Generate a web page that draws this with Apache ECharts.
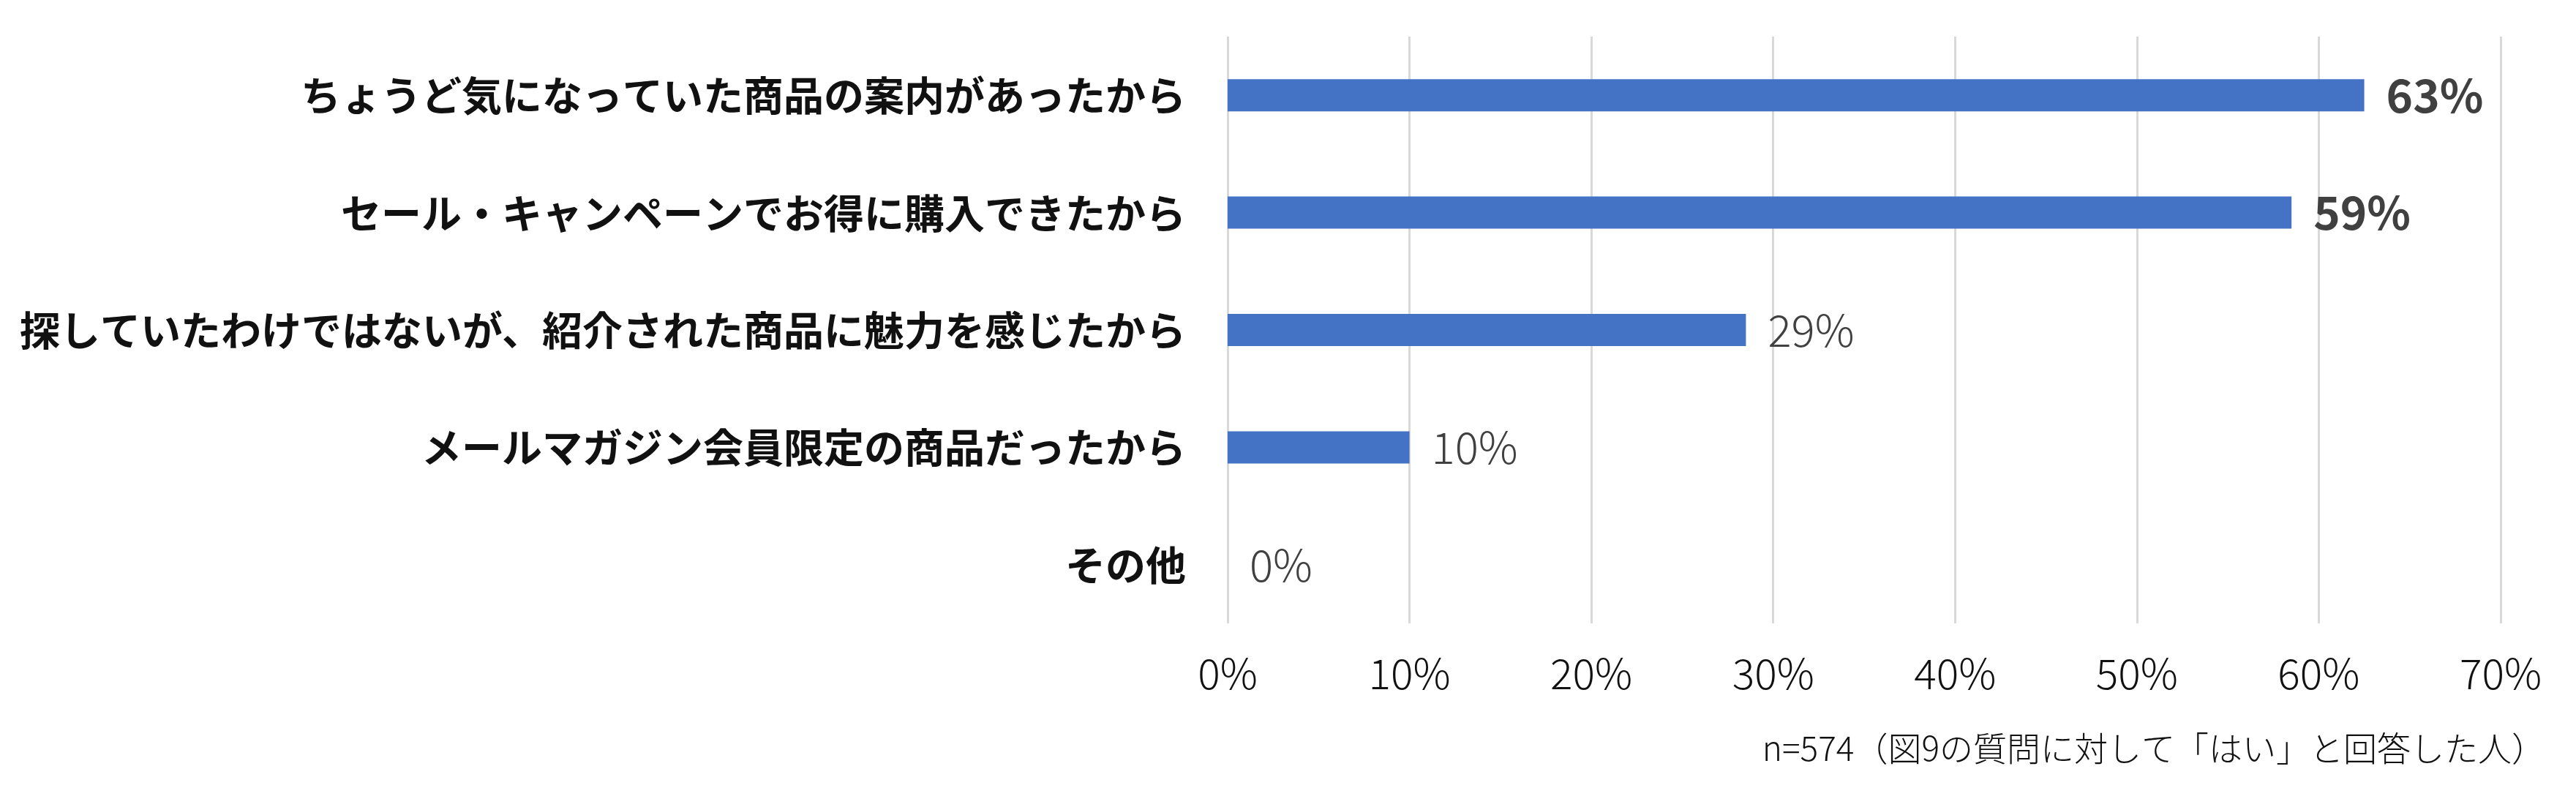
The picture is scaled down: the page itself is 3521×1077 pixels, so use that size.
<!DOCTYPE html>
<html>
<head>
<meta charset="utf-8">
<script src="https://cdn.jsdelivr.net/npm/echarts@6/dist/echarts.min.js"></script>
<style>
  html, body { margin: 0; padding: 0; background: #fff; }
  #chart { width: 3521px; height: 1077px; }
</style>
</head>
<body>
<div id="chart"></div>
<script>
const categories = [
  'ちょうど気になっていた商品の案内があったから',
  'セール・キャンペーンでお得に購入できたから',
  '探していたわけではないが、紹介された商品に魅力を感じたから',
  'メールマガジン会員限定の商品だったから',
  'その他'
]
const values = [62.5, 58.5, 28.5, 10.0, 0]
const note = 'n=574（図9の質問に対して「はい」と回答した人）'

const FONT = '"Noto Sans CJK JP", "Noto Sans", sans-serif'

const chart = echarts.init(document.getElementById('chart'))

// first two answers have bold labels in the original
const barData = values.map((v, i) => {
  const top = i < 2
  return {
    value: v,
    label: {
      fontSize: top ? 62 : 60,
      fontWeight: top ? 'bold' : 300
    }
  }
})

chart.setOption({
  animation: false,
  backgroundColor: '#fff',
  title: {
    text: note,
    right: 42,
    top: 1000,
    padding: 0,
    textStyle: { fontFamily: FONT, fontSize: 46, fontWeight: 300, color: '#111' }
  },
  grid: { left: 1678, right: 103, top: 50, bottom: 225, containLabel: false },
  xAxis: {
    type: 'value',
    min: 0,
    max: 70,
    interval: 10,
    axisLine: { show: false },
    axisTick: { show: false },
    splitLine: { lineStyle: { color: '#d9d9d9', width: 3 } },
    axisLabel: {
      formatter: '{value}%',
      margin: 40,
      fontFamily: FONT,
      fontSize: 57,
      fontWeight: 300,
      color: '#111'
    }
  },
  yAxis: {
    type: 'category',
    data: categories,
    inverse: true,
    axisLine: { show: false },
    axisTick: { show: false },
    axisLabel: {
      margin: 57,
      fontFamily: FONT,
      fontSize: 55,
      fontWeight: 'bold',
      color: '#111'
    }
  },
  series: [{
    type: 'bar',
    data: barData,
    barWidth: 44,
    itemStyle: { color: '#4472C4' },
    label: {
      show: true,
      position: 'right',
      distance: 30,
      fontFamily: FONT,
      color: '#404040',
      formatter: (p) => Math.round(p.value) + '%'
    }
  }]
})

window.addEventListener('resize', () => chart.resize())
</script>
</body>
</html>
